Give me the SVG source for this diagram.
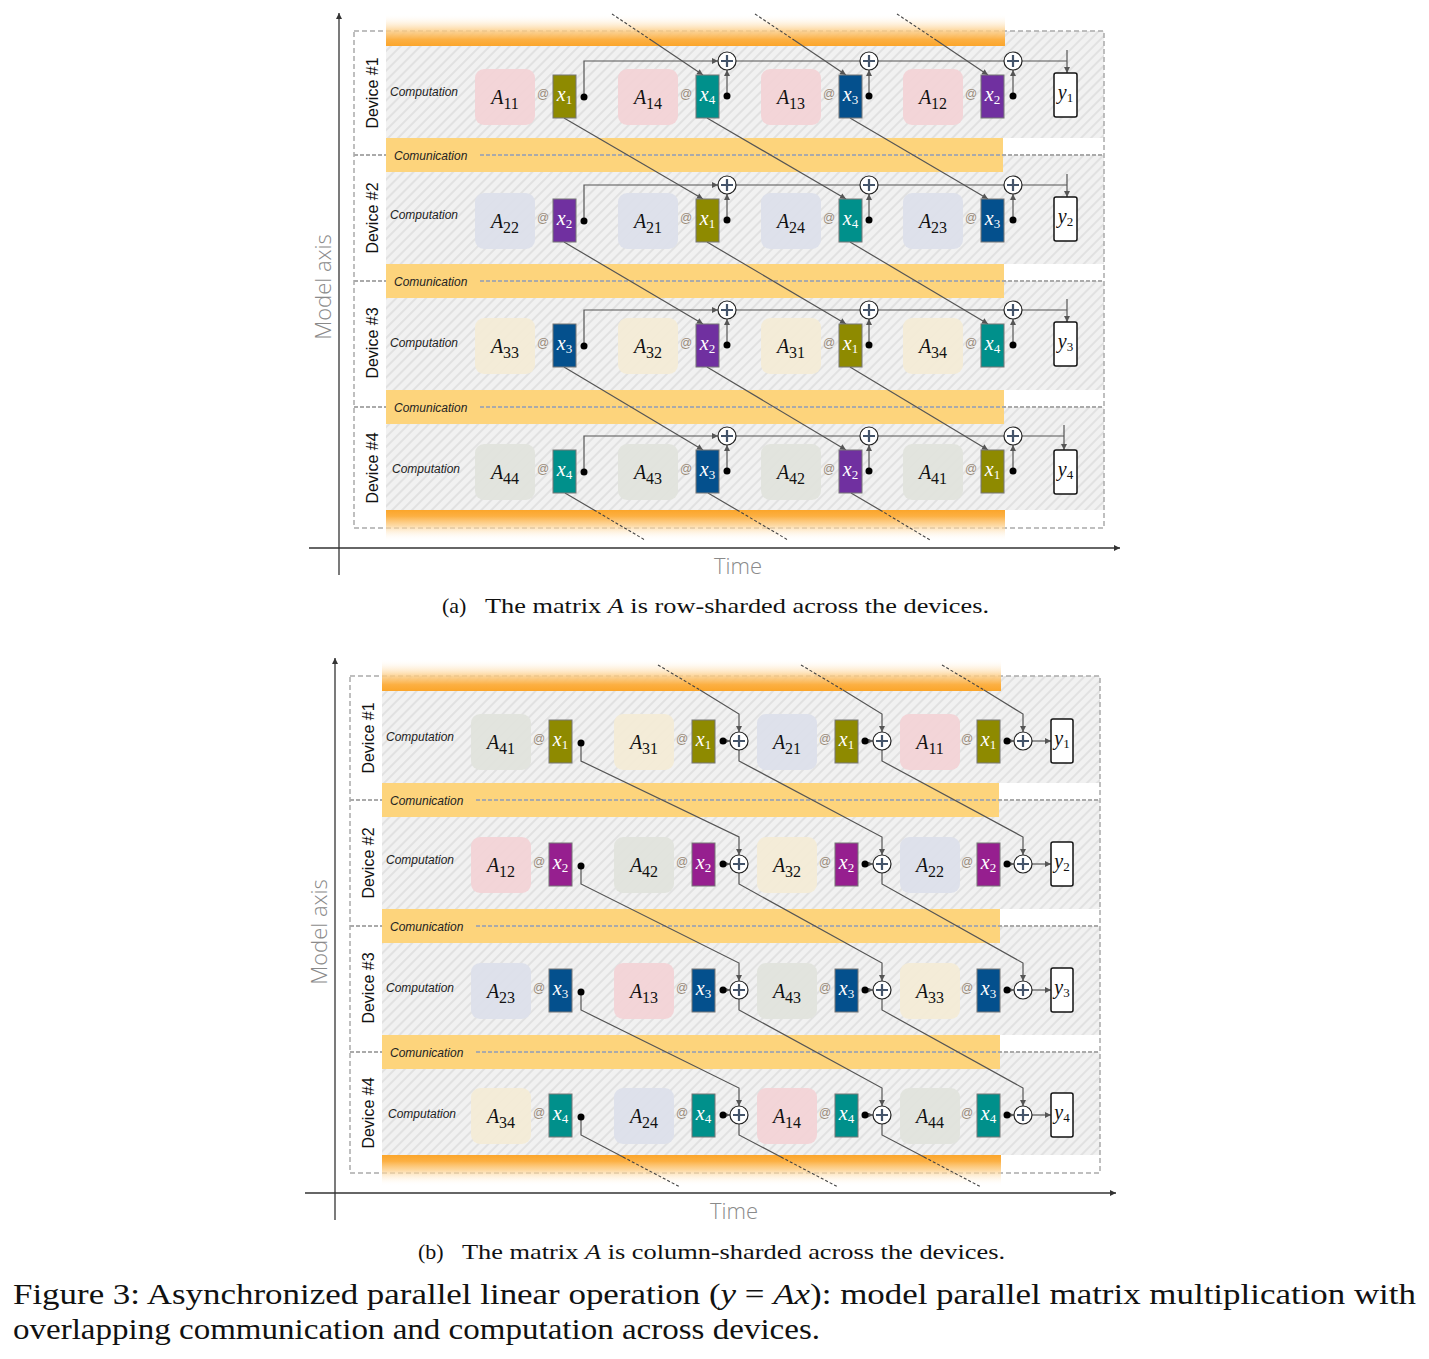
<svg xmlns="http://www.w3.org/2000/svg" xmlns:xlink="http://www.w3.org/1999/xlink" width="1429" height="1359" viewBox="0 0 1429 1359">
<style>
.hz{fill:url(#hatch)}
.cm{fill:#fdd47c}
.ob{fill:none;stroke:#aaa;stroke-width:1.5;stroke-dasharray:5 3}
.sep{fill:none;stroke:#aaa;stroke-width:2;stroke-dasharray:4 2}
.dev{font-family:"Liberation Sans",Arial,sans-serif;font-size:16px;fill:#111;text-anchor:middle}
.cp{font-family:"Liberation Sans",Arial,sans-serif;font-size:12px;font-style:italic;fill:#222}
.a1{fill:#f3d2d6;opacity:.92}
.a2{fill:#dce0ea;opacity:.92}
.a3{fill:#f4ebd6;opacity:.92}
.a4{fill:#e1e3dc;opacity:.92}
.al{font-family:"Liberation Serif",serif;font-size:20px;text-anchor:middle;fill:#111}
.it{font-style:italic}
.sb{font-size:16px}
.at{font-family:"Liberation Sans",Arial,sans-serif;font-size:12px;fill:#9a8c7c;text-anchor:middle}
.xr{stroke:#777;stroke-width:1}
.x1{fill:#8e8a00}
.x2{fill:#7030a0}
.x2b{fill:#961f8f}
.x3{fill:#04508d}
.x4{fill:#00908b}
.xl{font-family:"Liberation Serif",serif;font-size:20px;fill:#fff;text-anchor:middle}
.xs{font-size:13px}
.yb{fill:#fff;stroke:#111;stroke-width:1.5}
.yl{font-family:"Liberation Serif",serif;font-size:20px;fill:#111;text-anchor:middle}
.c{fill:none;stroke:#555;stroke-width:1.2}
.ar{marker-end:url(#ar)}
.sa{marker-end:url(#sa)}
.cd{fill:none;stroke:#444;stroke-width:1.1;stroke-dasharray:3 2}
.dot{fill:#000}
.ax{stroke:#333;stroke-width:1.3;fill:none;marker-end:url(#axa)}
.axl{font-family:"Open Sans","Liberation Sans",sans-serif;font-weight:300;font-size:22px;fill:#8a8a8a;text-anchor:middle}
.cap{font-family:"Liberation Serif",serif;font-size:22px;fill:#111}
.fig{font-family:"Liberation Serif",serif;font-size:29px;fill:#111}
</style>
<defs>
<pattern id="hatch" width="7" height="7" patternUnits="userSpaceOnUse" patternTransform="rotate(45)">
<rect width="7" height="7" fill="#f1f1f1"/>
<line x1="1" y1="0" x2="1" y2="7" stroke="#e1e1e1" stroke-width="2"/>
</pattern>
<linearGradient id="gTop" x1="0" y1="0" x2="0" y2="1">
<stop offset="0" stop-color="#ffffff" stop-opacity="0"/>
<stop offset="0.5" stop-color="#fdd08c" stop-opacity="0.8"/>
<stop offset="0.8" stop-color="#fcb043"/>
<stop offset="1" stop-color="#fba52a"/>
</linearGradient>
<linearGradient id="gBot" x1="0" y1="0" x2="0" y2="1">
<stop offset="0" stop-color="#fba52a"/>
<stop offset="0.2" stop-color="#fcb043"/>
<stop offset="0.5" stop-color="#fdd08c" stop-opacity="0.8"/>
<stop offset="1" stop-color="#ffffff" stop-opacity="0"/>
</linearGradient>
<marker id="ar" viewBox="0 0 10 10" refX="10" refY="5" markerWidth="7" markerHeight="6" markerUnits="userSpaceOnUse" orient="auto">
<path d="M0 0L10 5L0 10z" fill="#555"/>
</marker>
<marker id="sa" viewBox="0 0 10 10" refX="10" refY="5" markerWidth="5" markerHeight="5" markerUnits="userSpaceOnUse" orient="auto">
<path d="M0 0L10 5L0 10z" fill="#555"/>
</marker>
<marker id="axa" viewBox="0 0 10 10" refX="10" refY="5" markerWidth="8" markerHeight="6" markerUnits="userSpaceOnUse" orient="auto">
<path d="M0 0L10 5L0 10z" fill="#333"/>
</marker>
<g id="pl"><circle r="9" fill="#fff" stroke="#222" stroke-width="1.2"/><path d="M-6 0H6M0-6V6" stroke="#44546a" stroke-width="2.2"/></g>
</defs>

<!-- ================= PANEL (a) background ================= -->
<g id="panel-a-bg">
<rect class="hz" x="386" y="31" width="718" height="107"/>
<rect class="hz" x="386" y="155" width="718" height="109"/>
<rect class="hz" x="386" y="281" width="718" height="109"/>
<rect class="hz" x="386" y="407" width="718" height="103"/>
<rect class="ob" x="354" y="31" width="750" height="497"/>
<rect class="cm" x="386" y="138" width="617" height="34"/>
<rect class="cm" x="386" y="264" width="618" height="34"/>
<rect class="cm" x="386" y="390" width="618" height="34"/>
<rect x="386" y="14" width="619" height="32" fill="url(#gTop)"/>
<rect x="386" y="510" width="619" height="31" fill="url(#gBot)"/>
<path class="sep" d="M354 155H386M480 155H1104M354 281H386M480 281H1104M354 407H386M480 407H1104"/>
<text class="dev" transform="translate(378,93) rotate(-90)">Device #1</text>
<text class="dev" transform="translate(378,218) rotate(-90)">Device #2</text>
<text class="dev" transform="translate(378,343) rotate(-90)">Device #3</text>
<text class="dev" transform="translate(378,468) rotate(-90)">Device #4</text>
<text class="cp" x="390" y="96">Computation</text>
<text class="cp" x="390" y="219">Computation</text>
<text class="cp" x="390" y="347">Computation</text>
<text class="cp" x="392" y="473">Computation</text>
<text class="cp" x="394" y="160">Comunication</text>
<text class="cp" x="394" y="286">Comunication</text>
<text class="cp" x="394" y="412">Comunication</text>
<path class="ax" d="M339 575V13"/>
<path class="ax" d="M309 548H1120"/>
<text class="axl" transform="translate(331,287) rotate(-90)">Model axis</text>
<text class="axl" x="738" y="574">Time</text>
</g>

<!-- ================= PANEL (b) background ================= -->
<g id="panel-b-bg" transform="translate(-4,645)">
<rect class="hz" x="386" y="31" width="718" height="107"/>
<rect class="hz" x="386" y="155" width="718" height="109"/>
<rect class="hz" x="386" y="281" width="718" height="109"/>
<rect class="hz" x="386" y="407" width="718" height="103"/>
<rect class="ob" x="354" y="31" width="750" height="497"/>
<rect class="cm" x="386" y="138" width="617" height="34"/>
<rect class="cm" x="386" y="264" width="618" height="34"/>
<rect class="cm" x="386" y="390" width="618" height="34"/>
<rect x="386" y="14" width="619" height="32" fill="url(#gTop)"/>
<rect x="386" y="510" width="619" height="31" fill="url(#gBot)"/>
<path class="sep" d="M354 155H386M480 155H1104M354 281H386M480 281H1104M354 407H386M480 407H1104"/>
<text class="dev" transform="translate(378,93) rotate(-90)">Device #1</text>
<text class="dev" transform="translate(378,218) rotate(-90)">Device #2</text>
<text class="dev" transform="translate(378,343) rotate(-90)">Device #3</text>
<text class="dev" transform="translate(378,468) rotate(-90)">Device #4</text>
<text class="cp" x="390" y="96">Computation</text>
<text class="cp" x="390" y="219">Computation</text>
<text class="cp" x="390" y="347">Computation</text>
<text class="cp" x="392" y="473">Computation</text>
<text class="cp" x="394" y="160">Comunication</text>
<text class="cp" x="394" y="286">Comunication</text>
<text class="cp" x="394" y="412">Comunication</text>
<path class="ax" d="M339 575V13"/>
<path class="ax" d="M309 548H1120"/>
<text class="axl" transform="translate(331,287) rotate(-90)">Model axis</text>
<text class="axl" x="738" y="574">Time</text>
</g>

<!-- ================= CONNECTORS ================= -->
<g id="connectors">
<path class="c ar" d="M584 97V61H718"/>
<path class="c" d="M736 61H860M878 61H1004M1022 61H1067"/>
<path class="c ar" d="M1067 50V73"/>
<path class="c ar" d="M727 93V70"/>
<path class="c ar" d="M869 93V70"/>
<path class="c ar" d="M1013 93V70"/>

<path class="c ar" d="M584 221V185H718"/>
<path class="c" d="M736 185H860M878 185H1004M1022 185H1067"/>
<path class="c ar" d="M1067 174V197"/>
<path class="c ar" d="M727 217V194"/>
<path class="c ar" d="M869 217V194"/>
<path class="c ar" d="M1013 217V194"/>

<path class="c ar" d="M584 346V310H718"/>
<path class="c" d="M736 310H860M878 310H1004M1022 310H1067"/>
<path class="c ar" d="M1067 299V322"/>
<path class="c ar" d="M727 342V319"/>
<path class="c ar" d="M869 342V319"/>
<path class="c ar" d="M1013 342V319"/>

<path class="c ar" d="M584 472V436H718"/>
<path class="c" d="M736 436H860M878 436H1004M1022 436H1064"/>
<path class="c ar" d="M1064 425V450"/>
<path class="c ar" d="M727 468V445"/>
<path class="c ar" d="M869 468V445"/>
<path class="c ar" d="M1013 468V445"/>

<path class="c ar" d="M564 118L703 199"/>
<path class="c ar" d="M707 118L846 199"/>
<path class="c ar" d="M850 118L988 199"/>
<path class="c ar" d="M564 242L703 324"/>
<path class="c ar" d="M707 242L846 324"/>
<path class="c ar" d="M850 242L988 324"/>
<path class="c ar" d="M564 367L703 450"/>
<path class="c ar" d="M707 367L846 450"/>
<path class="c ar" d="M850 367L988 450"/>
<path class="cd" d="M612 14L651 40M755 14L794 40M897 14L936 40"/>
<path class="c ar" d="M651 40L703 75"/>
<path class="c ar" d="M794 40L846 75"/>
<path class="c ar" d="M936 40L988 75"/>
<path class="c" d="M565 493L594 510M708 493L737 510M851 493L880 510"/>
<path class="cd" d="M594 510L645 540M737 510L788 540M880 510L930 540"/>

<path class="c sa" d="M723 741H730"/>
<path class="c sa" d="M865 741H873"/>
<path class="c sa" d="M1007 741H1014"/>
<path class="c ar" d="M1032 741H1051"/>
<path class="c sa" d="M723 864H730"/>
<path class="c sa" d="M865 864H873"/>
<path class="c sa" d="M1007 864H1014"/>
<path class="c ar" d="M1032 864H1051"/>
<path class="c sa" d="M723 990H730"/>
<path class="c sa" d="M865 990H873"/>
<path class="c sa" d="M1007 990H1014"/>
<path class="c ar" d="M1032 990H1051"/>
<path class="c sa" d="M723 1115H730"/>
<path class="c sa" d="M865 1115H873"/>
<path class="c sa" d="M1007 1115H1014"/>
<path class="c ar" d="M1032 1115H1051"/>

<path class="c ar" d="M581 746V761L739 837V855"/>
<path class="c ar" d="M739 750V761L882 837V855"/>
<path class="c ar" d="M882 750V761L1023 837V855"/>
<path class="c ar" d="M581 869V884L739 963V981"/>
<path class="c ar" d="M739 873V884L882 963V981"/>
<path class="c ar" d="M882 873V884L1023 963V981"/>
<path class="c ar" d="M581 995V1010L739 1088V1106"/>
<path class="c ar" d="M739 999V1010L882 1088V1106"/>
<path class="c ar" d="M882 999V1010L1023 1088V1106"/>
<path class="cd" d="M658 665L700 690M801 665L843 690M942 665L984 690"/>
<path class="c ar" d="M700 690L739 714V732"/>
<path class="c ar" d="M843 690L882 714V732"/>
<path class="c ar" d="M984 690L1023 714V732"/>
<path class="c" d="M581 1120V1135L623 1157M739 1124V1135L781 1157M882 1124V1135L924 1157"/>
<path class="cd" d="M623 1157L680 1187M781 1157L838 1187M924 1157L981 1187"/>
</g>

<!-- ================= PANEL (a) nodes ================= -->
<g id="a-device1">
<g id="a-A11"><rect class="a1" x="475" y="69" width="60" height="56" rx="9"/><text class="al" x="505" y="104"><tspan class="it">A</tspan><tspan class="sb" dy="5">11</tspan></text></g>
<g id="a-d1-x1"><text class="at" x="543" y="98">@</text><rect class="xr x1" x="553" y="75" width="23" height="43"/><text class="xl" x="564.5" y="101"><tspan class="it">x</tspan><tspan class="xs" dy="3">1</tspan></text><circle class="dot" cx="584" cy="97" r="3.5"/></g>
<g id="a-A14"><rect class="a1" x="618" y="69" width="60" height="56" rx="9"/><text class="al" x="648" y="104"><tspan class="it">A</tspan><tspan class="sb" dy="5">14</tspan></text></g>
<g id="a-d1-x4"><text class="at" x="686" y="98">@</text><rect class="xr x4" x="696" y="75" width="23" height="43"/><text class="xl" x="707.5" y="101"><tspan class="it">x</tspan><tspan class="xs" dy="3">4</tspan></text><circle class="dot" cx="727" cy="96" r="3.5"/></g>
<g id="a-A13"><rect class="a1" x="761" y="69" width="60" height="56" rx="9"/><text class="al" x="791" y="104"><tspan class="it">A</tspan><tspan class="sb" dy="5">13</tspan></text></g>
<g id="a-d1-x3"><text class="at" x="829" y="98">@</text><rect class="xr x3" x="839" y="75" width="23" height="43"/><text class="xl" x="850.5" y="101"><tspan class="it">x</tspan><tspan class="xs" dy="3">3</tspan></text><circle class="dot" cx="869" cy="96" r="3.5"/></g>
<g id="a-A12"><rect class="a1" x="903" y="69" width="60" height="56" rx="9"/><text class="al" x="933" y="104"><tspan class="it">A</tspan><tspan class="sb" dy="5">12</tspan></text></g>
<g id="a-d1-x2"><text class="at" x="971" y="98">@</text><rect class="xr x2" x="981" y="75" width="23" height="43"/><text class="xl" x="992.5" y="101"><tspan class="it">x</tspan><tspan class="xs" dy="3">2</tspan></text><circle class="dot" cx="1013" cy="96" r="3.5"/></g>
<g id="a-d1-p2"><use xlink:href="#pl" x="727" y="61"/></g>
<g id="a-d1-p3"><use xlink:href="#pl" x="869" y="61"/></g>
<g id="a-d1-p4"><use xlink:href="#pl" x="1013" y="61"/></g>
<g id="a-y1"><rect class="yb" x="1054" y="73" width="23" height="44" rx="2"/><text class="yl" x="1065.5" y="99"><tspan class="it">y</tspan><tspan class="xs" dy="3">1</tspan></text></g>
</g>

<g id="a-device2" transform="translate(0,124)">
<g id="a-A22"><rect class="a2" x="475" y="69" width="60" height="56" rx="9"/><text class="al" x="505" y="104"><tspan class="it">A</tspan><tspan class="sb" dy="5">22</tspan></text></g>
<g id="a-d2-x2"><text class="at" x="543" y="98">@</text><rect class="xr x2" x="553" y="75" width="23" height="43"/><text class="xl" x="564.5" y="101"><tspan class="it">x</tspan><tspan class="xs" dy="3">2</tspan></text><circle class="dot" cx="584" cy="97" r="3.5"/></g>
<g id="a-A21"><rect class="a2" x="618" y="69" width="60" height="56" rx="9"/><text class="al" x="648" y="104"><tspan class="it">A</tspan><tspan class="sb" dy="5">21</tspan></text></g>
<g id="a-d2-x1"><text class="at" x="686" y="98">@</text><rect class="xr x1" x="696" y="75" width="23" height="43"/><text class="xl" x="707.5" y="101"><tspan class="it">x</tspan><tspan class="xs" dy="3">1</tspan></text><circle class="dot" cx="727" cy="96" r="3.5"/></g>
<g id="a-A24"><rect class="a2" x="761" y="69" width="60" height="56" rx="9"/><text class="al" x="791" y="104"><tspan class="it">A</tspan><tspan class="sb" dy="5">24</tspan></text></g>
<g id="a-d2-x4"><text class="at" x="829" y="98">@</text><rect class="xr x4" x="839" y="75" width="23" height="43"/><text class="xl" x="850.5" y="101"><tspan class="it">x</tspan><tspan class="xs" dy="3">4</tspan></text><circle class="dot" cx="869" cy="96" r="3.5"/></g>
<g id="a-A23"><rect class="a2" x="903" y="69" width="60" height="56" rx="9"/><text class="al" x="933" y="104"><tspan class="it">A</tspan><tspan class="sb" dy="5">23</tspan></text></g>
<g id="a-d2-x3"><text class="at" x="971" y="98">@</text><rect class="xr x3" x="981" y="75" width="23" height="43"/><text class="xl" x="992.5" y="101"><tspan class="it">x</tspan><tspan class="xs" dy="3">3</tspan></text><circle class="dot" cx="1013" cy="96" r="3.5"/></g>
<g id="a-d2-p2"><use xlink:href="#pl" x="727" y="61"/></g>
<g id="a-d2-p3"><use xlink:href="#pl" x="869" y="61"/></g>
<g id="a-d2-p4"><use xlink:href="#pl" x="1013" y="61"/></g>
<g id="a-y2"><rect class="yb" x="1054" y="73" width="23" height="44" rx="2"/><text class="yl" x="1065.5" y="99"><tspan class="it">y</tspan><tspan class="xs" dy="3">2</tspan></text></g>
</g>

<g id="a-device3" transform="translate(0,249)">
<g id="a-A33"><rect class="a3" x="475" y="69" width="60" height="56" rx="9"/><text class="al" x="505" y="104"><tspan class="it">A</tspan><tspan class="sb" dy="5">33</tspan></text></g>
<g id="a-d3-x3"><text class="at" x="543" y="98">@</text><rect class="xr x3" x="553" y="75" width="23" height="43"/><text class="xl" x="564.5" y="101"><tspan class="it">x</tspan><tspan class="xs" dy="3">3</tspan></text><circle class="dot" cx="584" cy="97" r="3.5"/></g>
<g id="a-A32"><rect class="a3" x="618" y="69" width="60" height="56" rx="9"/><text class="al" x="648" y="104"><tspan class="it">A</tspan><tspan class="sb" dy="5">32</tspan></text></g>
<g id="a-d3-x2"><text class="at" x="686" y="98">@</text><rect class="xr x2" x="696" y="75" width="23" height="43"/><text class="xl" x="707.5" y="101"><tspan class="it">x</tspan><tspan class="xs" dy="3">2</tspan></text><circle class="dot" cx="727" cy="96" r="3.5"/></g>
<g id="a-A31"><rect class="a3" x="761" y="69" width="60" height="56" rx="9"/><text class="al" x="791" y="104"><tspan class="it">A</tspan><tspan class="sb" dy="5">31</tspan></text></g>
<g id="a-d3-x1"><text class="at" x="829" y="98">@</text><rect class="xr x1" x="839" y="75" width="23" height="43"/><text class="xl" x="850.5" y="101"><tspan class="it">x</tspan><tspan class="xs" dy="3">1</tspan></text><circle class="dot" cx="869" cy="96" r="3.5"/></g>
<g id="a-A34"><rect class="a3" x="903" y="69" width="60" height="56" rx="9"/><text class="al" x="933" y="104"><tspan class="it">A</tspan><tspan class="sb" dy="5">34</tspan></text></g>
<g id="a-d3-x4"><text class="at" x="971" y="98">@</text><rect class="xr x4" x="981" y="75" width="23" height="43"/><text class="xl" x="992.5" y="101"><tspan class="it">x</tspan><tspan class="xs" dy="3">4</tspan></text><circle class="dot" cx="1013" cy="96" r="3.5"/></g>
<g id="a-d3-p2"><use xlink:href="#pl" x="727" y="61"/></g>
<g id="a-d3-p3"><use xlink:href="#pl" x="869" y="61"/></g>
<g id="a-d3-p4"><use xlink:href="#pl" x="1013" y="61"/></g>
<g id="a-y3"><rect class="yb" x="1054" y="73" width="23" height="44" rx="2"/><text class="yl" x="1065.5" y="99"><tspan class="it">y</tspan><tspan class="xs" dy="3">3</tspan></text></g>
</g>

<g id="a-device4" transform="translate(0,375)">
<g id="a-A44"><rect class="a4" x="475" y="69" width="60" height="56" rx="9"/><text class="al" x="505" y="104"><tspan class="it">A</tspan><tspan class="sb" dy="5">44</tspan></text></g>
<g id="a-d4-x4"><text class="at" x="543" y="98">@</text><rect class="xr x4" x="553" y="75" width="23" height="43"/><text class="xl" x="564.5" y="101"><tspan class="it">x</tspan><tspan class="xs" dy="3">4</tspan></text><circle class="dot" cx="584" cy="97" r="3.5"/></g>
<g id="a-A43"><rect class="a4" x="618" y="69" width="60" height="56" rx="9"/><text class="al" x="648" y="104"><tspan class="it">A</tspan><tspan class="sb" dy="5">43</tspan></text></g>
<g id="a-d4-x3"><text class="at" x="686" y="98">@</text><rect class="xr x3" x="696" y="75" width="23" height="43"/><text class="xl" x="707.5" y="101"><tspan class="it">x</tspan><tspan class="xs" dy="3">3</tspan></text><circle class="dot" cx="727" cy="96" r="3.5"/></g>
<g id="a-A42"><rect class="a4" x="761" y="69" width="60" height="56" rx="9"/><text class="al" x="791" y="104"><tspan class="it">A</tspan><tspan class="sb" dy="5">42</tspan></text></g>
<g id="a-d4-x2"><text class="at" x="829" y="98">@</text><rect class="xr x2" x="839" y="75" width="23" height="43"/><text class="xl" x="850.5" y="101"><tspan class="it">x</tspan><tspan class="xs" dy="3">2</tspan></text><circle class="dot" cx="869" cy="96" r="3.5"/></g>
<g id="a-A41"><rect class="a4" x="903" y="69" width="60" height="56" rx="9"/><text class="al" x="933" y="104"><tspan class="it">A</tspan><tspan class="sb" dy="5">41</tspan></text></g>
<g id="a-d4-x1"><text class="at" x="971" y="98">@</text><rect class="xr x1" x="981" y="75" width="23" height="43"/><text class="xl" x="992.5" y="101"><tspan class="it">x</tspan><tspan class="xs" dy="3">1</tspan></text><circle class="dot" cx="1013" cy="96" r="3.5"/></g>
<g id="a-d4-p2"><use xlink:href="#pl" x="727" y="61"/></g>
<g id="a-d4-p3"><use xlink:href="#pl" x="869" y="61"/></g>
<g id="a-d4-p4"><use xlink:href="#pl" x="1013" y="61"/></g>
<g id="a-y4"><rect class="yb" x="1054" y="75" width="23" height="44" rx="2"/><text class="yl" x="1065.5" y="101"><tspan class="it">y</tspan><tspan class="xs" dy="3">4</tspan></text></g>
</g>

<!-- ================= PANEL (b) nodes ================= -->
<g id="b-device1">
<g id="b-A41"><rect class="a4" x="471" y="714" width="60" height="56" rx="9"/><text class="al" x="501" y="749"><tspan class="it">A</tspan><tspan class="sb" dy="5">41</tspan></text></g>
<g id="b-d1-x1a"><text class="at" x="539" y="743">@</text><rect class="xr x1" x="549" y="720" width="23" height="43"/><text class="xl" x="560.5" y="746"><tspan class="it">x</tspan><tspan class="xs" dy="3">1</tspan></text><circle class="dot" cx="581" cy="743" r="3.5"/></g>
<g id="b-A31"><rect class="a3" x="614" y="714" width="60" height="56" rx="9"/><text class="al" x="644" y="749"><tspan class="it">A</tspan><tspan class="sb" dy="5">31</tspan></text></g>
<g id="b-d1-x1b"><text class="at" x="682" y="743">@</text><rect class="xr x1" x="692" y="720" width="23" height="43"/><text class="xl" x="703.5" y="746"><tspan class="it">x</tspan><tspan class="xs" dy="3">1</tspan></text><circle class="dot" cx="723" cy="741" r="3.5"/></g>
<g id="b-A21"><rect class="a2" x="757" y="714" width="60" height="56" rx="9"/><text class="al" x="787" y="749"><tspan class="it">A</tspan><tspan class="sb" dy="5">21</tspan></text></g>
<g id="b-d1-x1c"><text class="at" x="825" y="743">@</text><rect class="xr x1" x="835" y="720" width="23" height="43"/><text class="xl" x="846.5" y="746"><tspan class="it">x</tspan><tspan class="xs" dy="3">1</tspan></text><circle class="dot" cx="865" cy="741" r="3.5"/></g>
<g id="b-A11"><rect class="a1" x="900" y="714" width="60" height="56" rx="9"/><text class="al" x="930" y="749"><tspan class="it">A</tspan><tspan class="sb" dy="5">11</tspan></text></g>
<g id="b-d1-x1d"><text class="at" x="967" y="743">@</text><rect class="xr x1" x="977" y="720" width="23" height="43"/><text class="xl" x="988.5" y="746"><tspan class="it">x</tspan><tspan class="xs" dy="3">1</tspan></text><circle class="dot" cx="1007" cy="741" r="3.5"/></g>
<g id="b-d1-p2"><use xlink:href="#pl" x="739" y="741"/></g>
<g id="b-d1-p3"><use xlink:href="#pl" x="882" y="741"/></g>
<g id="b-d1-p4"><use xlink:href="#pl" x="1023" y="741"/></g>
<g id="b-y1"><rect class="yb" x="1051" y="719" width="22" height="44" rx="2"/><text class="yl" x="1062" y="745"><tspan class="it">y</tspan><tspan class="xs" dy="3">1</tspan></text></g>
</g>

<g id="b-device2" transform="translate(0,123)">
<g id="b-A12"><rect class="a1" x="471" y="714" width="60" height="56" rx="9"/><text class="al" x="501" y="749"><tspan class="it">A</tspan><tspan class="sb" dy="5">12</tspan></text></g>
<g id="b-d2-x2a"><text class="at" x="539" y="743">@</text><rect class="xr x2b" x="549" y="720" width="23" height="43"/><text class="xl" x="560.5" y="746"><tspan class="it">x</tspan><tspan class="xs" dy="3">2</tspan></text><circle class="dot" cx="581" cy="743" r="3.5"/></g>
<g id="b-A42"><rect class="a4" x="614" y="714" width="60" height="56" rx="9"/><text class="al" x="644" y="749"><tspan class="it">A</tspan><tspan class="sb" dy="5">42</tspan></text></g>
<g id="b-d2-x2b"><text class="at" x="682" y="743">@</text><rect class="xr x2b" x="692" y="720" width="23" height="43"/><text class="xl" x="703.5" y="746"><tspan class="it">x</tspan><tspan class="xs" dy="3">2</tspan></text><circle class="dot" cx="723" cy="741" r="3.5"/></g>
<g id="b-A32"><rect class="a3" x="757" y="714" width="60" height="56" rx="9"/><text class="al" x="787" y="749"><tspan class="it">A</tspan><tspan class="sb" dy="5">32</tspan></text></g>
<g id="b-d2-x2c"><text class="at" x="825" y="743">@</text><rect class="xr x2b" x="835" y="720" width="23" height="43"/><text class="xl" x="846.5" y="746"><tspan class="it">x</tspan><tspan class="xs" dy="3">2</tspan></text><circle class="dot" cx="865" cy="741" r="3.5"/></g>
<g id="b-A22"><rect class="a2" x="900" y="714" width="60" height="56" rx="9"/><text class="al" x="930" y="749"><tspan class="it">A</tspan><tspan class="sb" dy="5">22</tspan></text></g>
<g id="b-d2-x2d"><text class="at" x="967" y="743">@</text><rect class="xr x2b" x="977" y="720" width="23" height="43"/><text class="xl" x="988.5" y="746"><tspan class="it">x</tspan><tspan class="xs" dy="3">2</tspan></text><circle class="dot" cx="1007" cy="741" r="3.5"/></g>
<g id="b-d2-p2"><use xlink:href="#pl" x="739" y="741"/></g>
<g id="b-d2-p3"><use xlink:href="#pl" x="882" y="741"/></g>
<g id="b-d2-p4"><use xlink:href="#pl" x="1023" y="741"/></g>
<g id="b-y2"><rect class="yb" x="1051" y="719" width="22" height="44" rx="2"/><text class="yl" x="1062" y="745"><tspan class="it">y</tspan><tspan class="xs" dy="3">2</tspan></text></g>
</g>

<g id="b-device3" transform="translate(0,249)">
<g id="b-A23"><rect class="a2" x="471" y="714" width="60" height="56" rx="9"/><text class="al" x="501" y="749"><tspan class="it">A</tspan><tspan class="sb" dy="5">23</tspan></text></g>
<g id="b-d3-x3a"><text class="at" x="539" y="743">@</text><rect class="xr x3" x="549" y="720" width="23" height="43"/><text class="xl" x="560.5" y="746"><tspan class="it">x</tspan><tspan class="xs" dy="3">3</tspan></text><circle class="dot" cx="581" cy="743" r="3.5"/></g>
<g id="b-A13"><rect class="a1" x="614" y="714" width="60" height="56" rx="9"/><text class="al" x="644" y="749"><tspan class="it">A</tspan><tspan class="sb" dy="5">13</tspan></text></g>
<g id="b-d3-x3b"><text class="at" x="682" y="743">@</text><rect class="xr x3" x="692" y="720" width="23" height="43"/><text class="xl" x="703.5" y="746"><tspan class="it">x</tspan><tspan class="xs" dy="3">3</tspan></text><circle class="dot" cx="723" cy="741" r="3.5"/></g>
<g id="b-A43"><rect class="a4" x="757" y="714" width="60" height="56" rx="9"/><text class="al" x="787" y="749"><tspan class="it">A</tspan><tspan class="sb" dy="5">43</tspan></text></g>
<g id="b-d3-x3c"><text class="at" x="825" y="743">@</text><rect class="xr x3" x="835" y="720" width="23" height="43"/><text class="xl" x="846.5" y="746"><tspan class="it">x</tspan><tspan class="xs" dy="3">3</tspan></text><circle class="dot" cx="865" cy="741" r="3.5"/></g>
<g id="b-A33"><rect class="a3" x="900" y="714" width="60" height="56" rx="9"/><text class="al" x="930" y="749"><tspan class="it">A</tspan><tspan class="sb" dy="5">33</tspan></text></g>
<g id="b-d3-x3d"><text class="at" x="967" y="743">@</text><rect class="xr x3" x="977" y="720" width="23" height="43"/><text class="xl" x="988.5" y="746"><tspan class="it">x</tspan><tspan class="xs" dy="3">3</tspan></text><circle class="dot" cx="1007" cy="741" r="3.5"/></g>
<g id="b-d3-p2"><use xlink:href="#pl" x="739" y="741"/></g>
<g id="b-d3-p3"><use xlink:href="#pl" x="882" y="741"/></g>
<g id="b-d3-p4"><use xlink:href="#pl" x="1023" y="741"/></g>
<g id="b-y3"><rect class="yb" x="1051" y="719" width="22" height="44" rx="2"/><text class="yl" x="1062" y="745"><tspan class="it">y</tspan><tspan class="xs" dy="3">3</tspan></text></g>
</g>

<g id="b-device4" transform="translate(0,374)">
<g id="b-A34"><rect class="a3" x="471" y="714" width="60" height="56" rx="9"/><text class="al" x="501" y="749"><tspan class="it">A</tspan><tspan class="sb" dy="5">34</tspan></text></g>
<g id="b-d4-x4a"><text class="at" x="539" y="743">@</text><rect class="xr x4" x="549" y="720" width="23" height="43"/><text class="xl" x="560.5" y="746"><tspan class="it">x</tspan><tspan class="xs" dy="3">4</tspan></text><circle class="dot" cx="581" cy="743" r="3.5"/></g>
<g id="b-A24"><rect class="a2" x="614" y="714" width="60" height="56" rx="9"/><text class="al" x="644" y="749"><tspan class="it">A</tspan><tspan class="sb" dy="5">24</tspan></text></g>
<g id="b-d4-x4b"><text class="at" x="682" y="743">@</text><rect class="xr x4" x="692" y="720" width="23" height="43"/><text class="xl" x="703.5" y="746"><tspan class="it">x</tspan><tspan class="xs" dy="3">4</tspan></text><circle class="dot" cx="723" cy="741" r="3.5"/></g>
<g id="b-A14"><rect class="a1" x="757" y="714" width="60" height="56" rx="9"/><text class="al" x="787" y="749"><tspan class="it">A</tspan><tspan class="sb" dy="5">14</tspan></text></g>
<g id="b-d4-x4c"><text class="at" x="825" y="743">@</text><rect class="xr x4" x="835" y="720" width="23" height="43"/><text class="xl" x="846.5" y="746"><tspan class="it">x</tspan><tspan class="xs" dy="3">4</tspan></text><circle class="dot" cx="865" cy="741" r="3.5"/></g>
<g id="b-A44"><rect class="a4" x="900" y="714" width="60" height="56" rx="9"/><text class="al" x="930" y="749"><tspan class="it">A</tspan><tspan class="sb" dy="5">44</tspan></text></g>
<g id="b-d4-x4d"><text class="at" x="967" y="743">@</text><rect class="xr x4" x="977" y="720" width="23" height="43"/><text class="xl" x="988.5" y="746"><tspan class="it">x</tspan><tspan class="xs" dy="3">4</tspan></text><circle class="dot" cx="1007" cy="741" r="3.5"/></g>
<g id="b-d4-p2"><use xlink:href="#pl" x="739" y="741"/></g>
<g id="b-d4-p3"><use xlink:href="#pl" x="882" y="741"/></g>
<g id="b-d4-p4"><use xlink:href="#pl" x="1023" y="741"/></g>
<g id="b-y4"><rect class="yb" x="1051" y="719" width="22" height="44" rx="2"/><text class="yl" x="1062" y="745"><tspan class="it">y</tspan><tspan class="xs" dy="3">4</tspan></text></g>
</g>

<!-- ================= Captions ================= -->
<g id="captions">
<text class="cap" x="442" y="613">(a)</text>
<text class="cap" x="485" y="613" textLength="504" lengthAdjust="spacingAndGlyphs">The matrix <tspan class="it">A</tspan> is row-sharded across the devices.</text>
<text class="cap" x="418" y="1259">(b)</text>
<text class="cap" x="462" y="1259" textLength="543" lengthAdjust="spacingAndGlyphs">The matrix <tspan class="it">A</tspan> is column-sharded across the devices.</text>
<text class="fig" x="13" y="1304" textLength="1403" lengthAdjust="spacingAndGlyphs">Figure 3: Asynchronized parallel linear operation (<tspan class="it">y</tspan> = <tspan class="it">Ax</tspan>): model parallel matrix multiplication with</text>
<text class="fig" x="13" y="1339" textLength="807" lengthAdjust="spacingAndGlyphs">overlapping communication and computation across devices.</text>
</g>
</svg>
